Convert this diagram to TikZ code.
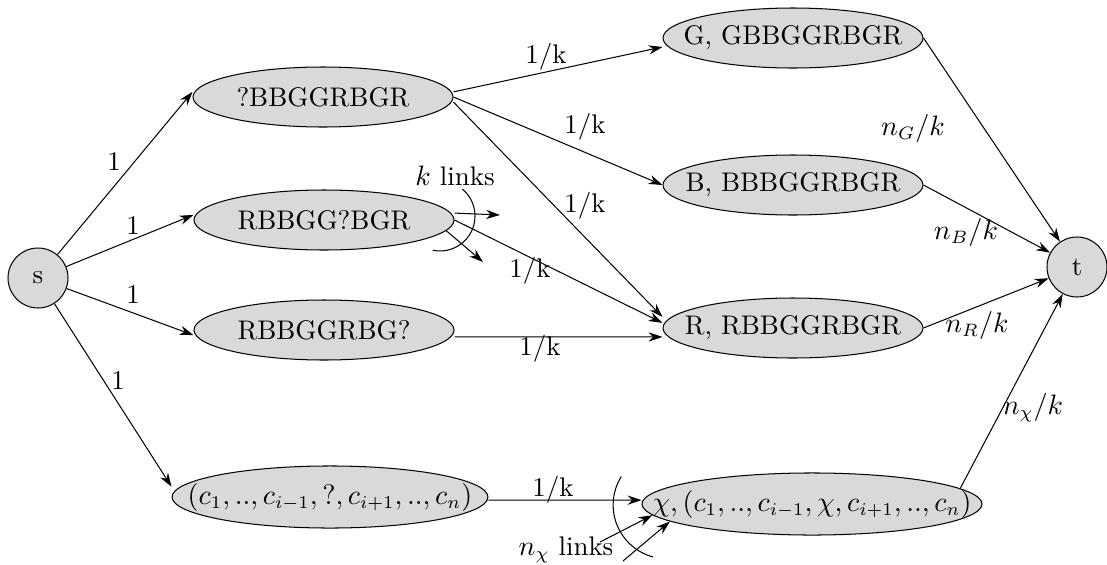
\documentclass[tikz,border=0pt]{standalone}
\usetikzlibrary{shapes.geometric,arrows.meta}

\newcommand{\inside}[1]{\makebox[0pt]{#1}}

\begin{document}
\begin{tikzpicture}[x=0.39pt,y=-0.39pt,>={Stealth[length=5.4pt,width=3.6pt]},
  every node/.style={font=\fontsize{10.5}{12.6}\selectfont}]

  \tikzstyle{vertex}=[circle,draw,fill=black!15,minimum size=23.4pt,inner sep=0pt]
  \tikzstyle{state}=[ellipse,draw,fill=black!15,minimum width=101.4pt,minimum height=23.4pt,inner sep=0pt]

  \useasboundingbox (0,0) rectangle (1107,564);

  \node[vertex] (s) at (38,278) {s};
  \node[vertex] (t) at (1077,267) {t};

  \node[state] (a1) at (323,97)  {\inside{?BBGGRBGR}};
  \node[state] (a2) at (324,220) {\inside{RBBGG?BGR}};
  \node[state] (a3) at (324,330) {\inside{RBBGGRBG?}};
  \node[state,minimum width=123.2pt,minimum height=24.2pt] (a4) at (330,497)
    {\inside{$(c_1,..,c_{i-1},?,c_{i+1},..,c_n)$}};

  \node[state] (g) at (793,38)  {\inside{G, GBBGGRBGR}};
  \node[state] (b) at (793,185) {\inside{B, BBBGGRBGR}};
  \node[state] (r) at (793,328) {\inside{R, RBBGGRBGR}};
  \node[state,minimum width=132.6pt,minimum height=24.2pt] (x) at (812,504)
    {\inside{$\chi,(c_1,..,c_{i-1},\chi,c_{i+1},..,c_n)$}};

  % from s
  \draw[->] (s) -- ([yshift=2pt]a1.west);
  \draw[->] (s) -- ([yshift=2pt]a2.west);
  \draw[->] (s) -- ([yshift=-2pt]a3.west);
  \draw[->] (s) -- ([yshift=4pt]a4.west);

  \node (w1) at (114,162) {1};
  \node (w2) at (133,226) {1};
  \node (w3) at (133,295) {1};
  \node (w4) at (118,381) {1};

  % one color fixed
  \draw[->] ([yshift=2pt]a1.east) -- ([yshift=-3.5pt]g.west);
  \draw[->] (a1.east) -- (b.west);
  \draw[->] ([yshift=-2pt]a1.east) -- ([yshift=4.3pt]r.west);
  \draw[->] (a2.east) -- ([yshift=2pt]r.west);
  \draw[->] ([yshift=-2.7pt]a3.east) -- ([yshift=-3.5pt]r.west);
  \draw[->] ([yshift=-1.2pt]a4.east) -- ([yshift=1.5pt]x.west);

  \node (p1) at (546,57)  {1/k};
  \node (p2) at (585,127) {1/k};
  \node (p3) at (585,206) {1/k};
  \node (p4) at (530,271) {1/k};
  \node (p5) at (540,349) {1/k};
  \node (p6) at (553,490) {1/k};

  % k links
  \coordinate (k1) at (500,215);
  \coordinate (k2) at (483,262);
  \coordinate (kc) at (440,216);
  \draw[->] ([yshift=2.7pt]a2.east) -- (k1);
  \draw[->] (a2.-5) -- (k2);
  \draw (kc) ++(50:13.65pt) arc[start angle=50,end angle=-102,radius=13.65pt];
  \node (kl) at (455,176) {$k$ links};

  % n_chi links
  \coordinate (m1) at (600,542);
  \coordinate (m2) at (623,561);
  \coordinate (mc) at (667,505);
  \draw[->] (m1) -- (x.184);
  \draw[->] (m2) -- (x.187);
  \draw (mc) ++(148:21pt) arc[start angle=148,end angle=255,radius=21pt];
  \node (ml) at (566,550) {$n_\chi$ links};

  % into t
  \draw[->] (g.east) -- (t);
  \draw[->] (b.east) -- (t);
  \draw[->] (r.east) -- (t);
  \draw[->] (x.6) -- (t);

  \node (nG) at (913,128)  {$n_G/k$};
  \node (nB) at (966,232)  {$n_B/k$};
  \node (nR) at (977,325)  {$n_R/k$};
  \node (nX) at (1033,408) {$n_\chi/k$};

  %\draw[step=100,gray,very thin] (0,0) grid (1107,564);

\end{tikzpicture}
\end{document}
